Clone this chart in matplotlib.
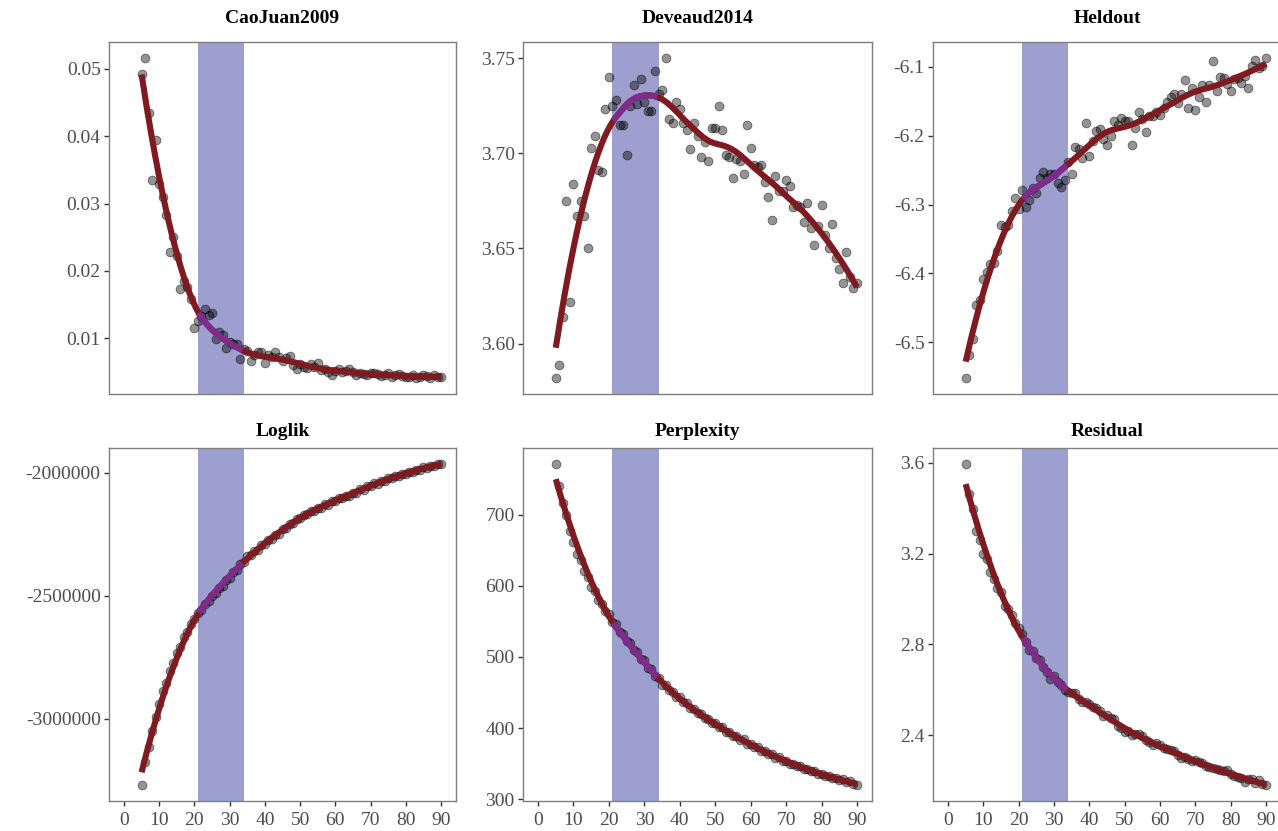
import numpy as np
import matplotlib
matplotlib.use("Agg")
import matplotlib.pyplot as plt

plt.rcParams['font.family'] = ['Liberation Serif', 'DejaVu Serif']
plt.rcParams['axes.unicode_minus'] = False

# ---------------- data ----------------
topics = list(range(5, 91))

caojuan = [0.0492, 0.0516, 0.0435, 0.0335, 0.0395, 0.0329, 0.0309, 0.0283, 0.0228, 0.0251,
           0.0222, 0.0173, 0.0185, 0.0176, 0.0158, 0.0115, 0.0125, 0.0133, 0.0143, 0.0135,
           0.0137, 0.0099, 0.0110, 0.0105, 0.0086, 0.0095, 0.0091, 0.0091, 0.0069, 0.0084,
           0.0081, 0.0066, 0.0075, 0.0080, 0.0079, 0.0064, 0.0075, 0.0072, 0.0080, 0.0072,
           0.0066, 0.0070, 0.0074, 0.0060, 0.0054, 0.0062, 0.0058, 0.0056, 0.0062, 0.0058,
           0.0063, 0.0053, 0.0055, 0.0050, 0.0045, 0.0052, 0.0054, 0.0050, 0.0051, 0.0055,
           0.0050, 0.0046, 0.0048, 0.0047, 0.0045, 0.0049, 0.0048, 0.0047, 0.0044, 0.0046,
           0.0048, 0.0042, 0.0045, 0.0047, 0.0044, 0.0042, 0.0043, 0.0045, 0.0041, 0.0043,
           0.0046, 0.0044, 0.0041, 0.0045, 0.0043, 0.0042]

deveaud = [3.582, 3.589, 3.614, 3.675, 3.622, 3.684, 3.667, 3.675, 3.667, 3.650,
           3.703, 3.709, 3.691, 3.690, 3.723, 3.740, 3.725, 3.728, 3.715, 3.715,
           3.699, 3.725, 3.736, 3.726, 3.739, 3.727, 3.722, 3.722, 3.743, 3.731,
           3.733, 3.750, 3.718, 3.716, 3.727, 3.723, 3.716, 3.712, 3.702, 3.716,
           3.709, 3.698, 3.706, 3.696, 3.713, 3.713, 3.725, 3.712, 3.699, 3.698,
           3.687, 3.697, 3.696, 3.689, 3.715, 3.703, 3.694, 3.693, 3.694, 3.685,
           3.677, 3.665, 3.688, 3.680, 3.680, 3.686, 3.683, 3.672, 3.673, 3.672,
           3.664, 3.674, 3.661, 3.652, 3.662, 3.673, 3.657, 3.650, 3.663, 3.645,
           3.639, 3.632, 3.648, 3.635, 3.629, 3.632]

heldout = [-6.552, -6.519, -6.496, -6.446, -6.438, -6.408, -6.398, -6.387, -6.385, -6.367,
           -6.330, -6.332, -6.330, -6.309, -6.291, -6.306, -6.279, -6.303, -6.294, -6.276,
           -6.283, -6.262, -6.253, -6.262, -6.256, -6.255, -6.268, -6.274, -6.265, -6.238,
           -6.256, -6.216, -6.219, -6.232, -6.182, -6.230, -6.207, -6.193, -6.190, -6.205,
           -6.214, -6.200, -6.179, -6.185, -6.174, -6.178, -6.179, -6.213, -6.188, -6.166,
           -6.175, -6.195, -6.172, -6.171, -6.166, -6.170, -6.160, -6.151, -6.143, -6.140,
           -6.153, -6.139, -6.119, -6.160, -6.131, -6.163, -6.143, -6.126, -6.151, -6.126,
           -6.092, -6.135, -6.115, -6.116, -6.125, -6.135, -6.118, -6.116, -6.123, -6.113,
           -6.130, -6.099, -6.090, -6.102, -6.099, -6.087]

loglik = [-3268000, -3175000, -3112000, -3048000, -2992000, -2938000, -2886000, -2852000, -2806000, -2772000,
          -2731000, -2708000, -2668000, -2648000, -2613000, -2594000, -2570000, -2556000, -2535000, -2522000,
          -2500000, -2490000, -2466000, -2458000, -2436000, -2427000, -2404000, -2396000, -2372000, -2364000,
          -2340000, -2335000, -2318000, -2313000, -2295000, -2290000, -2274000, -2269000, -2253000, -2249000,
          -2230000, -2226000, -2208000, -2204000, -2186000, -2183000, -2170000, -2169000, -2157000, -2156000,
          -2142000, -2142000, -2128000, -2129000, -2115000, -2115000, -2104000, -2104000, -2093000, -2094000,
          -2082000, -2081000, -2067000, -2068000, -2055000, -2054000, -2043000, -2044000, -2032000, -2033000,
          -2021000, -2023000, -2012000, -2014000, -2003000, -2005000, -1995000, -1997000, -1987000, -1988000,
          -1978000, -1981000, -1972000, -1973000, -1966000, -1965000]

perplexity = [771, 740, 716, 699, 677, 662, 645, 636, 620, 612,
              598, 592, 580, 575, 564, 560, 549, 546, 535, 532,
              522, 519, 509, 507, 497, 495, 485, 483, 473, 471,
              461, 460, 453, 451, 444, 443, 436, 435, 428, 427,
              421, 420, 414, 413, 407, 407, 401, 401, 395, 395,
              389, 389, 383, 384, 378, 378, 373, 373, 368, 368,
              363, 364, 358, 359, 354, 354, 350, 350, 346, 347,
              343, 343, 339, 339, 336, 336, 333, 333, 330, 330,
              327, 328, 324, 325, 322, 320]

residual = [3.595, 3.465, 3.395, 3.300, 3.260, 3.200, 3.175, 3.120, 3.090, 3.050,
            3.030, 2.970, 2.955, 2.930, 2.895, 2.870, 2.845, 2.810, 2.775, 2.770,
            2.740, 2.730, 2.700, 2.680, 2.645, 2.660, 2.635, 2.620, 2.600, 2.590,
            2.585, 2.585, 2.560, 2.545, 2.545, 2.535, 2.525, 2.520, 2.505, 2.485,
            2.490, 2.475, 2.470, 2.440, 2.430, 2.415, 2.420, 2.400, 2.405, 2.405,
            2.395, 2.380, 2.370, 2.355, 2.365, 2.355, 2.345, 2.340, 2.335, 2.330,
            2.310, 2.300, 2.305, 2.295, 2.285, 2.290, 2.280, 2.275, 2.265, 2.260,
            2.255, 2.250, 2.245, 2.240, 2.245, 2.230, 2.220, 2.215, 2.210, 2.195,
            2.205, 2.205, 2.190, 2.200, 2.185, 2.180]

titles = ["CaoJuan2009", "Deveaud2014", "Heldout", "Loglik", "Perplexity", "Residual"]
series = [caojuan, deveaud, heldout, loglik, perplexity, residual]
yticks = [[0.01, 0.02, 0.03, 0.04, 0.05],
          [3.60, 3.65, 3.70, 3.75],
          [-6.5, -6.4, -6.3, -6.2, -6.1],
          [-3000000, -2500000, -2000000],
          [300, 400, 500, 600, 700],
          [2.4, 2.8, 3.2, 3.6]]
yfmt = ["{:.2f}", "{:.2f}", "{:.1f}", "{:.0f}", "{:.0f}", "{:.1f}"]
xticks = [0, 10, 20, 30, 40, 50, 60, 70, 80, 90]
band = (21, 34)

# ---------------- helpers ----------------
def loess(x, y, xs, span=0.45):
    n = len(x)
    q = max(int(np.floor(n * span)), 3)
    out = []
    for x0 in xs:
        d = np.abs(x - x0)
        h = np.sort(d)[q - 1]
        w = np.clip(1 - (d / h) ** 3, 0, None) ** 3
        A = np.column_stack([np.ones(n), x - x0, (x - x0) ** 2])
        sw = np.sqrt(w)
        beta, *_ = np.linalg.lstsq(A * sw[:, None], y * sw, rcond=None)
        out.append(beta[0])
    return np.array(out)

RED = '#7f1b20'
PURPLE = '#7e2b8c'
BAND = '#9d9fcf'

W, H = 1278, 831
fig = plt.figure(figsize=(W / 100, H / 100), dpi=100)
fig.patch.set_facecolor('white')

lefts = [109, 523, 933]
widths = [347, 349, 348]
tops = [42, 448]
heights = [352, 353]
title_pad = [14, 9]

x = np.array(topics, dtype=float)
for i, (title, vals) in enumerate(zip(titles, series)):
    r, c = divmod(i, 3)
    ax = fig.add_axes([lefts[c] / W, 1 - (tops[r] + heights[r]) / H, widths[c] / W, heights[r] / H])
    y = np.array(vals, dtype=float)

    ax.axvspan(band[0], band[1], color=BAND, lw=0, zorder=0)
    ax.scatter(x, y, s=40, facecolors=(0, 0, 0, 0.42), edgecolors=(0, 0, 0, 0.5),
               linewidths=0.6, zorder=2)

    xs = np.linspace(x.min(), x.max(), 200)
    ys = loess(x, y, xs)
    ax.plot(xs, ys, color=RED, lw=4.4, solid_capstyle='butt', zorder=3)
    m = (xs >= band[0]) & (xs <= band[1])
    ax.plot(xs[m], ys[m], color=PURPLE, lw=4.4, solid_capstyle='butt', zorder=4)

    lo = min(y.min(), ys.min())
    hi = max(y.max(), ys.max())
    pad = (hi - lo) * 0.05
    ax.set_ylim(lo - pad, hi + pad)
    ax.set_xlim(-4.25, 94.25)

    ax.set_yticks(yticks[i])
    ax.set_yticklabels([yfmt[i].format(v) for v in yticks[i]])
    ax.tick_params(axis='y', length=3.5, width=1, color='#333333', labelsize=14,
                   labelcolor='#4d4d4d', pad=2.5)
    if r == 1:
        ax.set_xticks(xticks)
        ax.set_xticklabels([str(v) for v in xticks])
        ax.tick_params(axis='x', length=3.5, width=1, color='#333333', labelsize=14,
                       labelcolor='#4d4d4d', pad=4.5)
    else:
        ax.set_xticks([])
    for sp in ax.spines.values():
        sp.set_color('#7f7f7f')
        sp.set_linewidth(1.0)
    ax.set_title(title, fontsize=14, fontweight='bold', color='black', pad=title_pad[r])

fig.savefig('out.png', dpi=100, facecolor='white')
